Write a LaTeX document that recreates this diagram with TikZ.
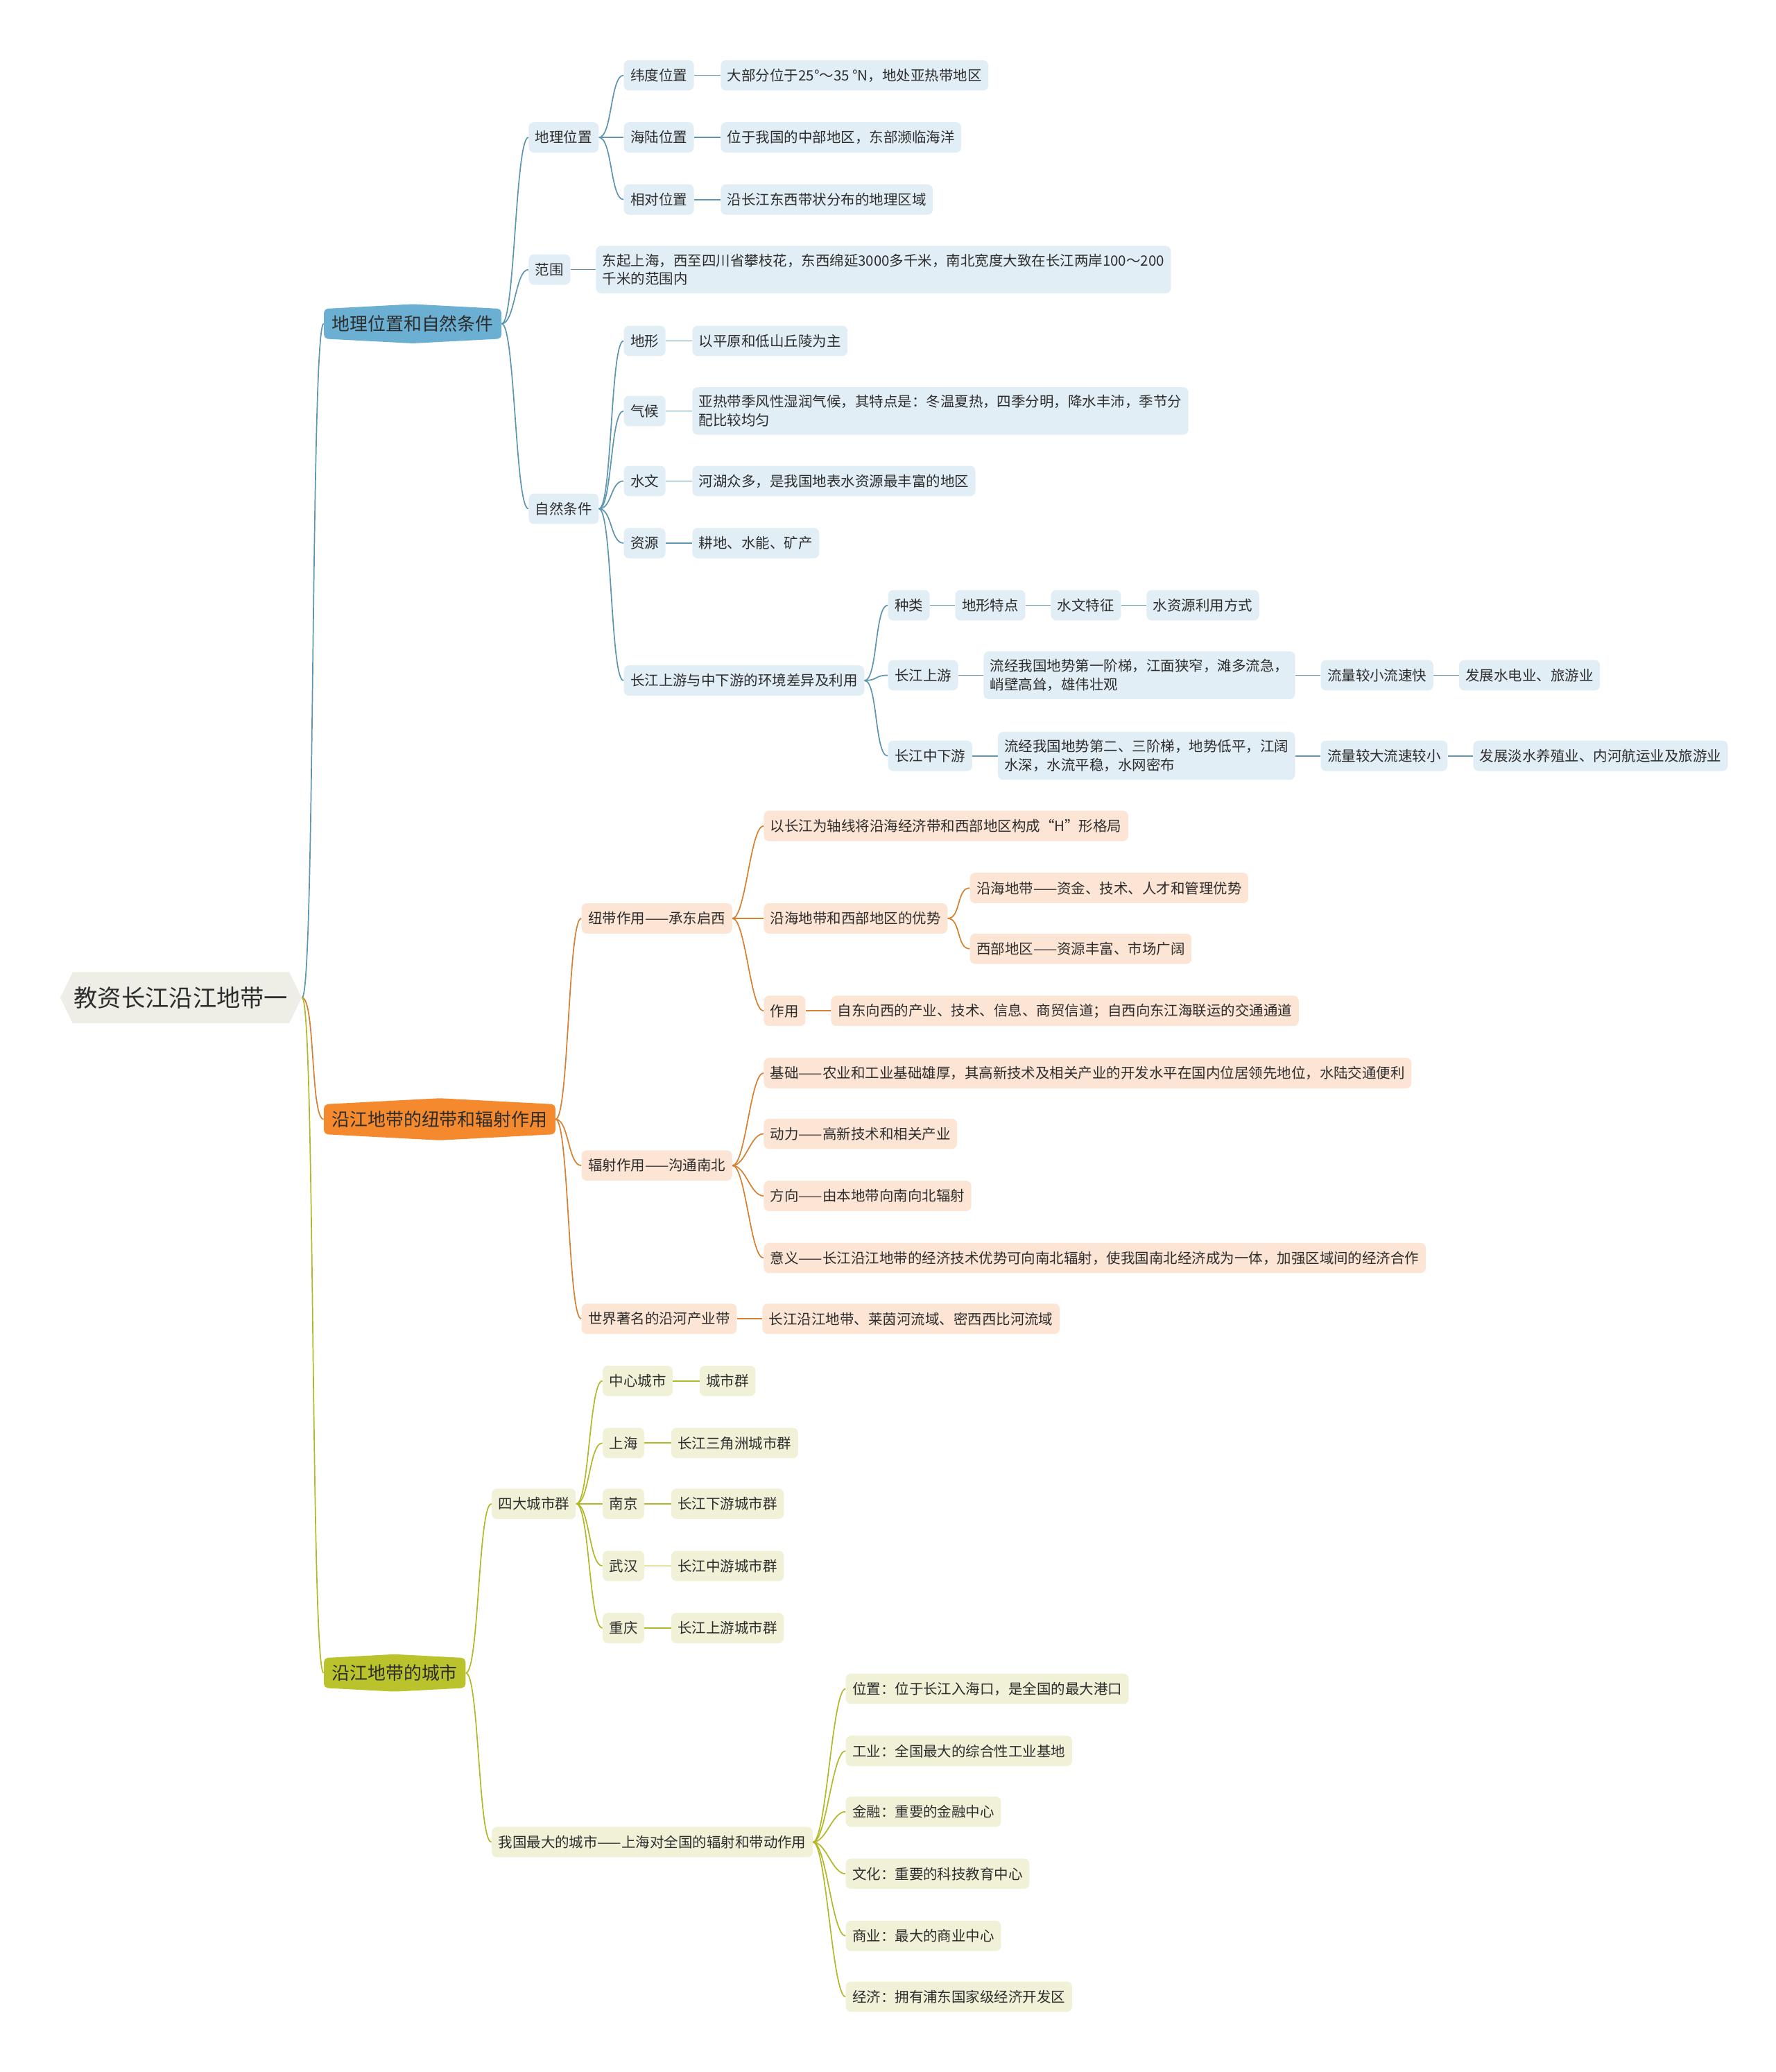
\documentclass[tikz,border=0pt]{standalone}
\usepackage{fontspec}
\setmainfont{Noto Sans CJK SC}
\usepackage{tikz}
\usetikzlibrary{shapes.symbols,positioning}

\definecolor{txt}{RGB}{45,45,45}
\definecolor{rootbg}{RGB}{238,238,231}
\definecolor{bluetop}{RGB}{107,175,210}
\definecolor{bluebg}{RGB}{226,238,245}
\definecolor{blueln}{RGB}{94,150,178}
\definecolor{orangetop}{RGB}{245,137,46}
\definecolor{orangebg}{RGB}{252,229,212}
\definecolor{orangeln}{RGB}{214,128,50}
\definecolor{greentop}{RGB}{186,194,44}
\definecolor{greenbg}{RGB}{241,241,216}
\definecolor{greenln}{RGB}{178,184,40}

\begin{document}
\begin{tikzpicture}[
    x=1pt, y=-1pt,
    every node/.style={text=txt},
    root/.style={signal, signal to=west and east, signal pointer angle=128, fill=rootbg, font=\fontsize{18}{20}\selectfont, inner xsep=1pt, inner ysep=11pt},
    topic/.style={signal, signal to=north and south, signal pointer angle=174, rounded corners=3pt, font=\fontsize{13.6}{15}\selectfont, inner xsep=6pt, inner ysep=5pt},
    leaf/.style={rectangle, rounded corners=4pt, font=\fontsize{10.75}{14}\selectfont, inner xsep=5pt, inner ysep=6pt, minimum height=23pt, align=left},
    bleaf/.style={leaf, fill=bluebg},
    oleaf/.style={leaf, fill=orangebg},
    gleaf/.style={leaf, fill=greenbg},
    bline/.style={draw=blueln, line width=0.9pt},
    oline/.style={draw=orangeln, line width=0.9pt},
    gline/.style={draw=greenln, line width=0.9pt},
    curvy/.style={to path={.. controls +(10,0) and +(-10,0) .. (\tikztotarget) \tikztonodes}}
]
\useasboundingbox (0,0) rectangle (1344,1568);

\node[root] (root) at (137,755) {教资长江沿江地带一};

% geography
\node[topic, fill=bluetop, anchor=west] (geo) at (245,245) {地理位置和自然条件};
\node[bleaf, anchor=west] (geo_pos) at (400,104) {地理位置};
\node[bleaf, anchor=west] (lat_pos) at (472,57) {纬度位置};
\node[bleaf, right=20pt of lat_pos] (lat_txt) {大部分位于25°～35 °N，地处亚热带地区};
\node[bleaf, anchor=west] (sea_pos) at (472,104) {海陆位置};
\node[bleaf, right=20pt of sea_pos] (sea_txt) {位于我国的中部地区，东部濒临海洋};
\node[bleaf, anchor=west] (rel_pos) at (472,151) {相对位置};
\node[bleaf, right=20pt of rel_pos] (rel_txt) {沿长江东西带状分布的地理区域};
\node[bleaf, anchor=west] (range) at (400,204) {范围};
\node[bleaf, right=19pt of range] (range_txt) {东起上海，西至四川省攀枝花，东西绵延3000多千米，南北宽度大致在长江两岸100～200\\千米的范围内};
\node[bleaf, anchor=west] (nature) at (400,385) {自然条件};
\node[bleaf, anchor=west] (terrain) at (472,258) {地形};
\node[bleaf, right=20pt of terrain] (terrain_txt) {以平原和低山丘陵为主};
\node[bleaf, anchor=west] (climate) at (472,311) {气候};
\node[bleaf, right=20pt of climate] (climate_txt) {亚热带季风性湿润气候，其特点是：冬温夏热，四季分明，降水丰沛，季节分\\配比较均匀};
\node[bleaf, anchor=west] (hydro) at (472,364) {水文};
\node[bleaf, right=20pt of hydro] (hydro_txt) {河湖众多，是我国地表水资源最丰富的地区};
\node[bleaf, anchor=west] (res) at (472,411) {资源};
\node[bleaf, right=20pt of res] (res_txt) {耕地、水能、矿产};
\node[bleaf, anchor=west] (diff) at (472,515) {长江上游与中下游的环境差异及利用};
\node[bleaf, anchor=west] (kind) at (672,458) {种类};
\node[bleaf, right=19pt of kind] (kind1) {地形特点};
\node[bleaf, right=19pt of kind1] (kind2) {水文特征};
\node[bleaf, right=19pt of kind2] (kind3) {水资源利用方式};
\node[bleaf, anchor=west] (upper) at (672,511) {长江上游};
\node[bleaf, right=19pt of upper] (upper1) {流经我国地势第一阶梯，江面狭窄，滩多流急，\\峭壁高耸，雄伟壮观};
\node[bleaf, right=19pt of upper1] (upper2) {流量较小流速快};
\node[bleaf, right=19pt of upper2] (upper3) {发展水电业、旅游业};
\node[bleaf, anchor=west] (lower) at (672,572) {长江中下游};
\node[bleaf, right=19pt of lower] (lower1) {流经我国地势第二、三阶梯，地势低平，江阔\\水深，水流平稳，水网密布};
\node[bleaf, right=19pt of lower1] (lower2) {流量较大流速较小};
\node[bleaf, right=19pt of lower2] (lower3) {发展淡水养殖业、内河航运业及旅游业};

% belt and radiation
\node[topic, fill=orangetop, anchor=west] (belt) at (245,847) {沿江地带的纽带和辐射作用};
\node[oleaf, anchor=west] (link_role) at (440,695) {纽带作用——承东启西};
\node[oleaf, anchor=west] (h_shape) at (578,625) {以长江为轴线将沿海经济带和西部地区构成“H”形格局};
\node[oleaf, anchor=west] (adv) at (578,695) {沿海地带和西部地区的优势};
\node[oleaf, anchor=west] (adv_east) at (734,672) {沿海地带——资金、技术、人才和管理优势};
\node[oleaf, anchor=west] (adv_west) at (734,718) {西部地区——资源丰富、市场广阔};
\node[oleaf, anchor=west] (use) at (578,765) {作用};
\node[oleaf, right=19pt of use] (use_txt) {自东向西的产业、技术、信息、商贸信道；自西向东江海联运的交通通道};
\node[oleaf, anchor=west] (rad_role) at (440,882) {辐射作用——沟通南北};
\node[oleaf, anchor=west] (base) at (578,812) {基础——农业和工业基础雄厚，其高新技术及相关产业的开发水平在国内位居领先地位，水陆交通便利};
\node[oleaf, anchor=west] (power) at (578,858) {动力——高新技术和相关产业};
\node[oleaf, anchor=west] (dir) at (578,905) {方向——由本地带向南向北辐射};
\node[oleaf, anchor=west] (mean) at (578,952) {意义——长江沿江地带的经济技术优势可向南北辐射，使我国南北经济成为一体，加强区域间的经济合作};
\node[oleaf, anchor=west] (world) at (440,998) {世界著名的沿河产业带};
\node[oleaf, right=19pt of world] (world_txt) {长江沿江地带、莱茵河流域、密西西比河流域};

% cities
\node[topic, fill=greentop, anchor=west] (city) at (245,1266) {沿江地带的城市};
\node[gleaf, anchor=west] (groups) at (372,1138) {四大城市群};
\node[gleaf, anchor=west] (center) at (456,1045) {中心城市};
\node[gleaf, right=20pt of center] (center_txt) {城市群};
\node[gleaf, anchor=west] (sh) at (456,1092) {上海};
\node[gleaf, right=20pt of sh] (sh_txt) {长江三角洲城市群};
\node[gleaf, anchor=west] (nj) at (456,1138) {南京};
\node[gleaf, right=20pt of nj] (nj_txt) {长江下游城市群};
\node[gleaf, anchor=west] (wh) at (456,1185) {武汉};
\node[gleaf, right=20pt of wh] (wh_txt) {长江中游城市群};
\node[gleaf, anchor=west] (cq) at (456,1232) {重庆};
\node[gleaf, right=20pt of cq] (cq_txt) {长江上游城市群};
\node[gleaf, anchor=west] (biggest) at (372,1394) {我国最大的城市——上海对全国的辐射和带动作用};
\node[gleaf, anchor=west] (sh_loc) at (640,1278) {位置：位于长江入海口，是全国的最大港口};
\node[gleaf, anchor=west] (sh_ind) at (640,1325) {工业：全国最大的综合性工业基地};
\node[gleaf, anchor=west] (sh_fin) at (640,1371) {金融：重要的金融中心};
\node[gleaf, anchor=west] (sh_cul) at (640,1418) {文化：重要的科技教育中心};
\node[gleaf, anchor=west] (sh_com) at (640,1465) {商业：最大的商业中心};
\node[gleaf, anchor=west] (sh_eco) at (640,1511) {经济：拥有浦东国家级经济开发区};

\draw[bline] (root.east) to[curvy] (geo.west);
\draw[oline] (root.east) to[curvy] (belt.west);
\draw[gline] (root.east) to[curvy] (city.west);

\draw[bline] (geo.east) to[curvy] (geo_pos.west);
\draw[bline] (geo.east) to[curvy] (range.west);
\draw[bline] (geo.east) to[curvy] (nature.west);
\draw[bline] (geo_pos.east) to[curvy] (lat_pos.west);
\draw[bline] (geo_pos.east) to[curvy] (sea_pos.west);
\draw[bline] (geo_pos.east) to[curvy] (rel_pos.west);
\draw[bline] (lat_pos) -- (lat_txt);
\draw[bline] (sea_pos) -- (sea_txt);
\draw[bline] (rel_pos) -- (rel_txt);
\draw[bline] (range) -- (range_txt);
\draw[bline] (nature.east) to[curvy] (terrain.west);
\draw[bline] (nature.east) to[curvy] (climate.west);
\draw[bline] (nature.east) to[curvy] (hydro.west);
\draw[bline] (nature.east) to[curvy] (res.west);
\draw[bline] (nature.east) to[curvy] (diff.west);
\draw[bline] (terrain) -- (terrain_txt);
\draw[bline] (climate) -- (climate_txt);
\draw[bline] (hydro) -- (hydro_txt);
\draw[bline] (res) -- (res_txt);
\draw[bline] (diff.east) to[curvy] (kind.west);
\draw[bline] (diff.east) to[curvy] (upper.west);
\draw[bline] (diff.east) to[curvy] (lower.west);
\draw[bline] (kind) -- (kind1);
\draw[bline] (kind1) -- (kind2);
\draw[bline] (kind2) -- (kind3);
\draw[bline] (upper) -- (upper1);
\draw[bline] (upper1) -- (upper2);
\draw[bline] (upper2) -- (upper3);
\draw[bline] (lower) -- (lower1);
\draw[bline] (lower1) -- (lower2);
\draw[bline] (lower2) -- (lower3);

\draw[oline] (belt.east) to[curvy] (link_role.west);
\draw[oline] (belt.east) to[curvy] (rad_role.west);
\draw[oline] (belt.east) to[curvy] (world.west);
\draw[oline] (link_role.east) to[curvy] (h_shape.west);
\draw[oline] (link_role.east) to[curvy] (adv.west);
\draw[oline] (link_role.east) to[curvy] (use.west);
\draw[oline] (adv.east) to[curvy] (adv_east.west);
\draw[oline] (adv.east) to[curvy] (adv_west.west);
\draw[oline] (use) -- (use_txt);
\draw[oline] (rad_role.east) to[curvy] (base.west);
\draw[oline] (rad_role.east) to[curvy] (power.west);
\draw[oline] (rad_role.east) to[curvy] (dir.west);
\draw[oline] (rad_role.east) to[curvy] (mean.west);
\draw[oline] (world) -- (world_txt);

\draw[gline] (city.east) to[curvy] (groups.west);
\draw[gline] (city.east) to[curvy] (biggest.west);
\draw[gline] (groups.east) to[curvy] (center.west);
\draw[gline] (groups.east) to[curvy] (sh.west);
\draw[gline] (groups.east) to[curvy] (nj.west);
\draw[gline] (groups.east) to[curvy] (wh.west);
\draw[gline] (groups.east) to[curvy] (cq.west);
\draw[gline] (center) -- (center_txt);
\draw[gline] (sh) -- (sh_txt);
\draw[gline] (nj) -- (nj_txt);
\draw[gline] (wh) -- (wh_txt);
\draw[gline] (cq) -- (cq_txt);
\draw[gline] (biggest.east) to[curvy] (sh_loc.west);
\draw[gline] (biggest.east) to[curvy] (sh_ind.west);
\draw[gline] (biggest.east) to[curvy] (sh_fin.west);
\draw[gline] (biggest.east) to[curvy] (sh_cul.west);
\draw[gline] (biggest.east) to[curvy] (sh_com.west);
\draw[gline] (biggest.east) to[curvy] (sh_eco.west);

\end{tikzpicture}
\end{document}
